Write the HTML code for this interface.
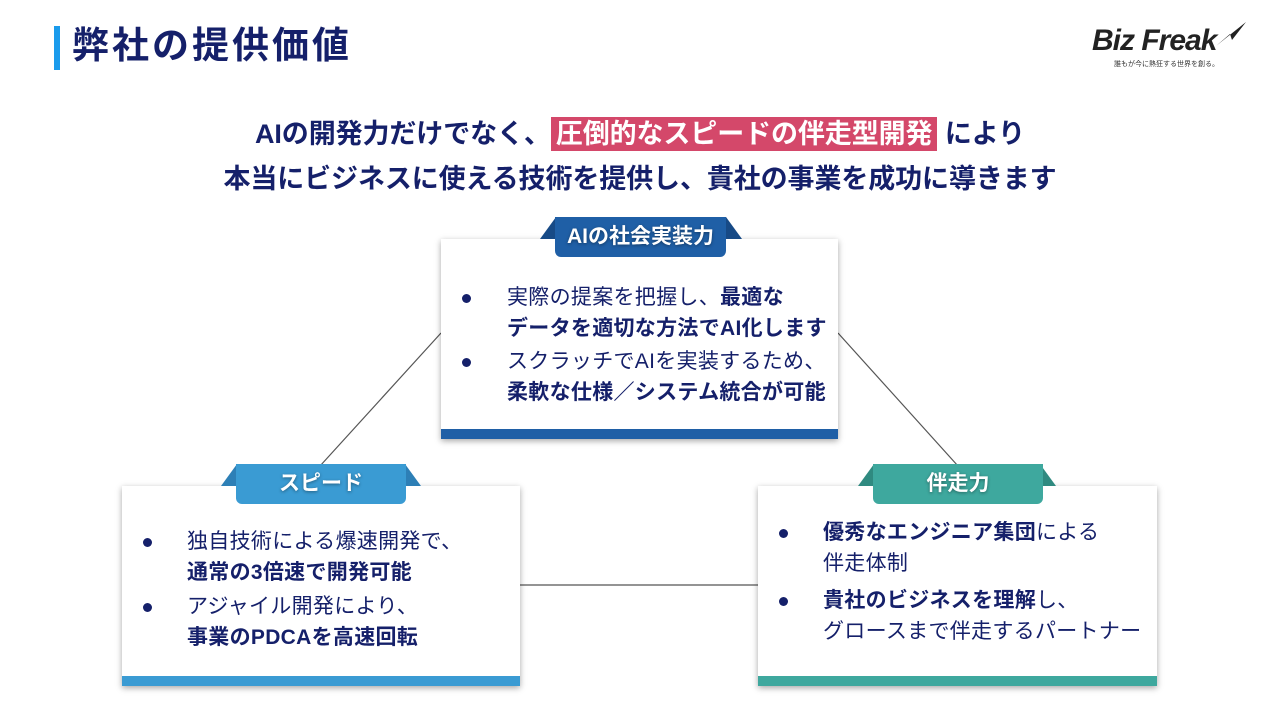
<!DOCTYPE html>
<html><head><meta charset="utf-8"><style>
body{margin:0;width:1280px;height:720px;background:#fff;position:relative;overflow:hidden;font-family:"Liberation Sans","Noto Sans CJK JP",sans-serif;color:#15206a}
.abs{position:absolute}
.box{position:absolute;background:#fff;box-shadow:0 2px 6px rgba(0,0,0,.35);}
.bar{position:absolute;left:0;right:0;bottom:0;height:10px}
.tab{position:absolute;color:#fff;font-weight:bold;font-size:21px;text-align:center;line-height:40px;border-radius:0 0 6px 6px;text-shadow:0 1px 3px rgba(0,0,0,.4)}
.trap{position:absolute;height:0;border-bottom:22px solid;border-left:16px solid transparent;border-right:16px solid transparent}
.txt{position:absolute;font-size:21px;line-height:31px;color:#15206a;white-space:nowrap;letter-spacing:0.3px}
.txt b{font-weight:bold}
.dot{position:absolute;width:9px;height:9px;border-radius:50%;background:#15206a}
</style></head><body>
<div class="abs" style="left:54px;top:26px;width:6px;height:44px;background:#1a9bec"></div>
<div class="abs" style="left:72px;top:18px;font-size:37px;font-weight:bold;line-height:56px;color:#15206a;letter-spacing:3px">弊社の提供価値</div>
<div class="abs" style="left:1092px;top:24px;font-size:30px;font-weight:bold;font-style:italic;color:#222;letter-spacing:-1px">Biz Freak</div>
<svg class="abs" style="left:1214px;top:20px" width="34" height="30"><path d="M2 26 L32 2 L18 20 L16 14 Z" fill="#222"/></svg>
<div class="abs" style="left:1114px;top:59px;font-size:7px;color:#333">誰もが今に熱狂する世界を創る。</div>

<div class="abs" style="left:0;width:1280px;top:112px;text-align:center;font-size:27px;font-weight:bold;line-height:45px;color:#15206a;letter-spacing:-0.1px">AIの開発力だけでなく、<span style="background:#d4486a;color:#fff;padding:2px 5px">圧倒的なスピードの伴走型開発</span> により<br>本当にビジネスに使える技術を提供し、貴社の事業を成功に導きます</div>

<svg class="abs" style="left:0;top:0" width="1280" height="720">
<line x1="441" y1="333" x2="320" y2="466" stroke="#555" stroke-width="1.2"/>
<line x1="838" y1="333" x2="958" y2="466" stroke="#555" stroke-width="1.2"/>
<line x1="520" y1="585" x2="758" y2="585" stroke="#555" stroke-width="1.2"/>
</svg>

<!-- top -->
<div class="box" style="left:441px;top:239px;width:397px;height:200px"><div class="bar" style="background:#1f5fa6"></div></div>
<div class="trap" style="left:540px;top:217px;width:170px;border-bottom-color:#174a86"></div>
<div class="tab" style="left:555px;top:217px;width:171px;height:40px;background:#1f5fa6">AIの社会実装力</div>
<div class="dot" style="left:462px;top:294px"></div>
<div class="dot" style="left:462px;top:358px"></div>
<div class="txt" style="left:507px;top:282px">実際の提案を把握し、<b>最適な<br>データを適切な方法でAI化します</b></div>
<div class="txt" style="left:507px;top:346px">スクラッチでAIを実装するため、<br><b>柔軟な仕様／システム統合が可能</b></div>

<!-- left -->
<div class="box" style="left:122px;top:486px;width:398px;height:200px"><div class="bar" style="background:#3a9bd3"></div></div>
<div class="trap" style="left:221px;top:464px;width:168px;border-bottom-color:#2d7fb6"></div>
<div class="tab" style="left:236px;top:464px;width:170px;height:40px;background:#3a9bd3">スピード</div>
<div class="dot" style="left:143px;top:538px"></div>
<div class="dot" style="left:143px;top:603px"></div>
<div class="txt" style="left:187px;top:526px">独自技術による爆速開発で、<br><b>通常の3倍速で開発可能</b></div>
<div class="txt" style="left:187px;top:591px">アジャイル開発により、<br><b>事業のPDCAを高速回転</b></div>

<!-- right -->
<div class="box" style="left:758px;top:486px;width:399px;height:200px"><div class="bar" style="background:#3ea89e"></div></div>
<div class="trap" style="left:858px;top:464px;width:166px;border-bottom-color:#2f8a80"></div>
<div class="tab" style="left:873px;top:464px;width:170px;height:40px;background:#3ea89e">伴走力</div>
<div class="dot" style="left:779px;top:529px"></div>
<div class="dot" style="left:779px;top:597px"></div>
<div class="txt" style="left:823px;top:517px"><b>優秀なエンジニア集団</b>による<br>伴走体制</div>
<div class="txt" style="left:823px;top:585px"><b>貴社のビジネスを理解</b>し、<br>グロースまで伴走するパートナー</div>
</body></html>
